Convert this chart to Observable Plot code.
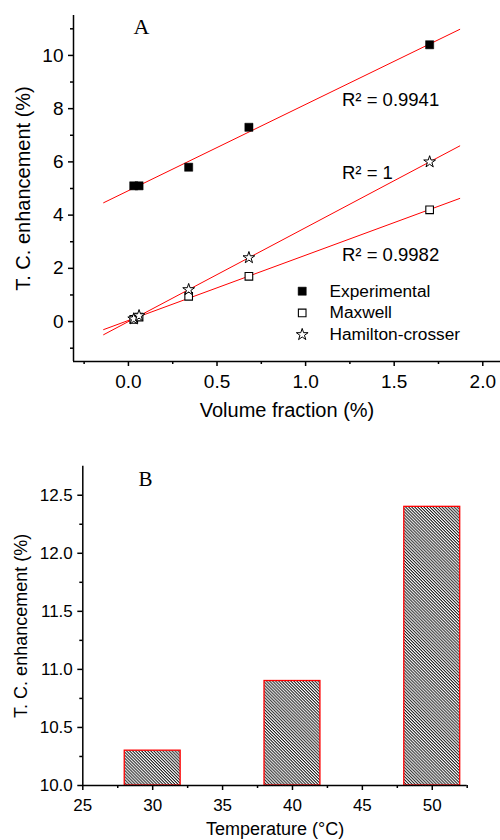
<!DOCTYPE html>
<html><head><meta charset="utf-8">
<script src="https://cdn.jsdelivr.net/npm/d3@7"></script>
<script src="https://cdn.jsdelivr.net/npm/@observablehq/plot@0.6"></script>
<style>
body{margin:0;background:#fff;}
#c{width:500px;}
#c svg{display:block;}
</style>
</head><body><div id="c"></div>
<script>
// ---- Panel A data ----
const volumeFraction = [0.03, 0.06, 0.34, 0.68, 1.7];
const experimental = [5.1, 5.1, 5.8, 7.3, 10.4];
const maxwell = [0.08, 0.17, 0.95, 1.7, 4.2];
const hamiltonCrosser = [0.1, 0.22, 1.2, 2.4, 6.0];
const seriesNames = ["Experimental", "Maxwell", "Hamilton-crosser"];
const rSquaredLabels = ["R\u00B2 = 0.9941", "R\u00B2 = 1", "R\u00B2 = 0.9982"];
const fitRange = [-0.14, 1.87];
const xDomainA = [-0.31, 2.1];
const yDomainA = [-1.5, 11.5];
const xTicksA = [0, 0.5, 1, 1.5, 2];
const xMinorA = [-0.25, 0.25, 0.75, 1.25, 1.75];
const yTicksA = [0, 2, 4, 6, 8, 10];
const yMinorA = [-1, 1, 3, 5, 7, 9, 11];

// ---- Panel B data ----
const temperatures = [30, 40, 50];
const tcEnhancement = [10.3, 10.9, 12.4];
const barWidth = 4;
const xDomainB = [25, 52.5];
const yDomainB = [10, 12.75];
const xTicksB = [25, 30, 35, 40, 45, 50];
const xMinorB = [27.5, 32.5, 37.5, 42.5, 47.5, 52.5];
const yTicksB = [10, 10.5, 11, 11.5, 12, 12.5];
const yMinorB = [10.25, 10.75, 11.25, 11.75, 12.25];

const FONT = "'Liberation Sans', Arial, sans-serif";
const SERIF = "'Liberation Serif', 'Times New Roman', serif";

function fit(xs, ys) {
  const mx = d3.mean(xs), my = d3.mean(ys);
  let sxy = 0, sxx = 0;
  xs.forEach((x, i) => { sxy += (x - mx) * (ys[i] - my); sxx += (x - mx) ** 2; });
  const b = sxy / sxx;
  return {a: my - b * mx, b};
}

const seriesValues = [experimental, maxwell, hamiltonCrosser];
const points = seriesValues.map((vals, s) => volumeFraction.map((x, i) => ({series: seriesNames[s], x, y: vals[i]})));
const fitLines = seriesValues.flatMap((vals, s) => {
  const {a, b} = fit(volumeFraction, vals);
  return fitRange.map(x => ({series: seriesNames[s], x, y: a + b * x}));
});

const symbolStyles = [
  {symbol: "square", fill: "black", stroke: "black", r: 4.6, strokeWidth: 0.5},
  {symbol: "square", fill: "white", stroke: "black", r: 4.3, strokeWidth: 1.1},
  {symbol: "star", fill: "white", stroke: "black", r: 3.7, strokeWidth: 1}
];

const axisStyle = {stroke: "black", strokeWidth: 1.5};
const T = {lineAnchor: "middle", text: d => d};

const marksA = [
  Plot.line(fitLines, {x: "x", y: "y", z: "series", stroke: "red", strokeWidth: 1}),
  ...points.map((pts, s) => Plot.dot(pts, {x: "x", y: "y", ...symbolStyles[s]})),
  Plot.ruleY([yDomainA[0]], axisStyle),
  Plot.ruleX([xDomainA[0]], axisStyle),
  Plot.axisX(xTicksA, {anchor: "bottom", tickSize: 5, tickPadding: 8, tickFormat: d3.format(".1f"), label: null, strokeWidth: 1.5, fontSize: 19}),
  Plot.axisX(xMinorA, {anchor: "bottom", tickSize: 3, tickFormat: () => "", label: null, strokeWidth: 1.5}),
  Plot.axisY(yTicksA, {anchor: "left", tickSize: 5, tickPadding: 5, tickFormat: d3.format("d"), label: null, strokeWidth: 1.5, fontSize: 19}),
  Plot.axisY(yMinorA, {anchor: "left", tickSize: 3, tickFormat: () => "", label: null, strokeWidth: 1.5}),
  Plot.text(["T. C. enhancement (%)"], {...T, frameAnchor: "left", textAnchor: "middle", dx: -50, rotate: -90, fontSize: 20}),
  Plot.text(["Volume fraction (%)"], {...T, frameAnchor: "bottom", dy: 49, fontSize: 20}),
  Plot.text(["A"], {...T, frameAnchor: "top-left", textAnchor: "middle", dx: 68, dy: 11, fontFamily: SERIF, fontSize: 22}),
  ...rSquaredLabels.map((t, i) => Plot.text([t], {...T, frameAnchor: "top-left", textAnchor: "start", dx: 268.5, dy: [85, 157.5, 240][i], fontSize: 18.5})),
  ...seriesNames.map((name, i) => Plot.dot([name], {frameAnchor: "top-left", dx: 228.7, dy: 275.7 + i * 21.7, ...symbolStyles[i]})),
  ...seriesNames.map((name, i) => Plot.text([name], {...T, frameAnchor: "top-left", textAnchor: "start", dx: 256, dy: 275.7 + i * 21.7, fontSize: 17.3}))
];

const svgA = Plot.plot({
  width: 500, height: 420,
  marginLeft: 73, marginRight: 0, marginTop: 15, marginBottom: 59,
  x: {domain: xDomainA},
  y: {domain: yDomainA},
  style: {fontFamily: FONT, fontSize: "17px", color: "black", background: "white", overflow: "visible"},
  marks: marksA
});

const bars = temperatures.map((t, i) => ({t, v: tcEnhancement[i]}));

const svgB = Plot.plot({
  width: 500, height: 420,
  marginLeft: 82.3, marginRight: 33.3, marginTop: 45.7, marginBottom: 55,
  x: {domain: xDomainB},
  y: {domain: yDomainB},
  style: {fontFamily: FONT, fontSize: "17px", color: "black", background: "white", overflow: "visible"},
  marks: [
    Plot.rect(bars, {x1: d => d.t - barWidth / 2, x2: d => d.t + barWidth / 2, y1: yDomainB[0], y2: "v", fill: "url(#hatchB)", stroke: "red", strokeWidth: 1.3}),
    Plot.ruleY([yDomainB[0]], axisStyle),
    Plot.ruleX([xDomainB[0]], axisStyle),
    Plot.axisX(xTicksB, {anchor: "bottom", tickSize: 5, tickPadding: 8, tickFormat: d3.format("d"), label: null, strokeWidth: 1.5, fontSize: 17}),
    Plot.axisX(xMinorB, {anchor: "bottom", tickSize: 3, tickFormat: () => "", label: null, strokeWidth: 1.5}),
    Plot.axisY(yTicksB, {anchor: "left", tickSize: 5, tickPadding: 5, tickFormat: d3.format(".1f"), label: null, strokeWidth: 1.5, fontSize: 17}),
    Plot.axisY(yMinorB, {anchor: "left", tickSize: 3, tickFormat: () => "", label: null, strokeWidth: 1.5}),
    Plot.text(["T. C. enhancement (%)"], {...T, frameAnchor: "left", textAnchor: "middle", dx: -62, rotate: -90, fontSize: 18}),
    Plot.text(["Temperature (\u00B0C)"], {...T, frameAnchor: "bottom", dy: 44, fontSize: 18}),
    Plot.text(["B"], {...T, frameAnchor: "top-left", textAnchor: "middle", dx: 62.7, dy: 13, fontFamily: SERIF, fontSize: 21})
  ]
});

d3.select(svgB).insert("defs", ":first-child").html(
  '<pattern id="hatchB" patternUnits="userSpaceOnUse" width="4" height="2.15" patternTransform="rotate(45)">' +
  '<rect width="4" height="2.15" fill="white"/>' +
  '<rect y="0" width="4" height="1.05" fill="#222"/></pattern>'
);

document.getElementById("c").append(svgA, svgB);
</script>
</body></html>
